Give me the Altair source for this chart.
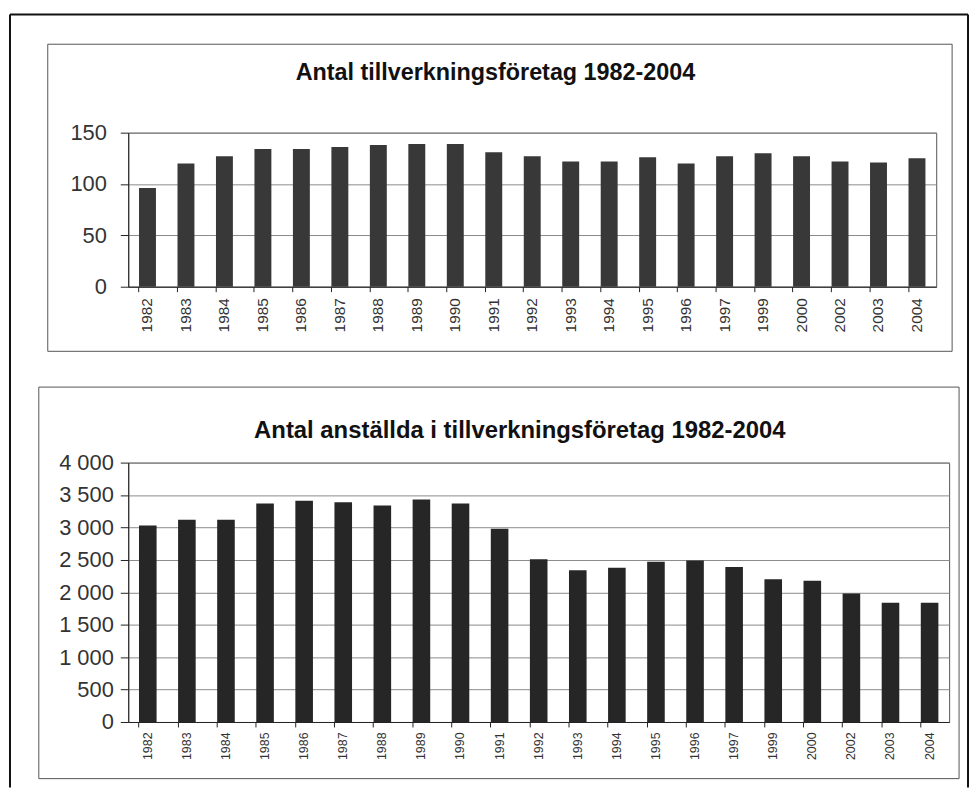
import altair as alt
import pandas as pd

# ---- data ----
years = ["1982", "1983", "1984", "1985", "1986", "1987", "1988", "1989", "1990",
         "1991", "1992", "1993", "1994", "1995", "1996", "1997", "1999", "2000",
         "2002", "2003", "2004"]
foretag = [96, 120, 127, 134, 134, 136, 138, 139, 139, 131, 127, 122, 122, 126,
           120, 127, 130, 127, 122, 121, 125]
anstallda = [3030, 3120, 3120, 3370, 3410, 3390, 3340, 3430, 3370, 2980, 2510,
             2340, 2380, 2470, 2490, 2390, 2200, 2180, 1980, 1840, 1840]
top_ticks = [0, 50, 100, 150]
bot_ticks = [0, 500, 1000, 1500, 2000, 2500, 3000, 3500, 4000]
title_top = "Antal tillverkningsföretag 1982-2004"
title_bot = "Antal anställda i tillverkningsföretag 1982-2004"

FONT = "Liberation Sans"

df_top = pd.DataFrame({"year": years, "value": foretag})
df_bot = pd.DataFrame({"year": years, "value": anstallda})
one = pd.DataFrame({"k": [0]})


def box(x1, x2, y1, y2, color="#555", sw=1.0):
    return alt.Chart(one).mark_rect(fill="transparent", stroke=color, strokeWidth=sw).encode(
        x=alt.value(x1), x2=alt.value(x2), y=alt.value(y1), y2=alt.value(y2))


def vrule(x, y1, y2, color="#111", sw=2):
    return alt.Chart(one).mark_rule(color=color, strokeWidth=sw).encode(
        x=alt.value(x), y=alt.value(y1), y2=alt.value(y2))


def hrule(x1, x2, y, color="#111", sw=2):
    return alt.Chart(one).mark_rule(color=color, strokeWidth=sw).encode(
        x=alt.value(x1), x2=alt.value(x2), y=alt.value(y))


def title_text(txt, x, y, size):
    return alt.Chart(one).mark_text(text=txt, font=FONT, fontSize=size, fontWeight="bold",
                                    align="center", baseline="alphabetic", color="#111").encode(
        x=alt.value(x), y=alt.value(y))


# ---- top panel (plot origin at page 128,130) ----
bars_top = alt.Chart(df_top).mark_bar(color="#383838").encode(
    x=alt.X("year:N", sort=years, title=None,
            scale=alt.Scale(paddingInner=0.56),
            axis=alt.Axis(labelAngle=270, bandPosition=0, tickSize=5, labelPadding=6,
                          labelFontSize=15.5, labelOverlap=False, grid=False)),
    y=alt.Y("value:Q", title=None,
            scale=alt.Scale(domain=[0, 150], nice=False),
            axis=alt.Axis(values=top_ticks, tickSize=8, labelPadding=14,
                          labelFontSize=22, grid=True)),
)

top = alt.layer(
    box(-81, 829, -89, 220),
    vrule(-119, -119, 659),
    hrule(-119, 845, -119),
    vrule(845, -119, 659),
    bars_top,
    title_text(title_top, 369.5, -53, 23.5),
).properties(width=813, height=155)

# ---- bottom panel (plot origin at page 128,462) ----
bars_bot = alt.Chart(df_bot).mark_bar(color="#262626").encode(
    x=alt.X("year:N", sort=years, title=None,
            scale=alt.Scale(paddingInner=0.55),
            axis=alt.Axis(labelAngle=270, bandPosition=0, tickSize=5, labelPadding=5,
                          labelFontSize=12.5, labelOverlap=False, grid=False)),
    y=alt.Y("value:Q", title=None,
            scale=alt.Scale(domain=[0, 4000], nice=False),
            axis=alt.Axis(values=bot_ticks, tickSize=8, labelPadding=7,
                          labelFontSize=22, grid=True,
                          labelExpr="replace(format(datum.value, ','), ',', ' ')")),
)

bottom = alt.layer(
    box(-90, 836, -76, 318),
    bars_bot,
    title_text(title_bot, 394, -25, 24),
).properties(width=826, height=261)

chart = alt.vconcat(top, bottom, spacing=177, bounds="flush").properties(
    padding={"left": 0, "top": 2, "right": 0, "bottom": 0}
).configure_view(
    stroke="#555", strokeWidth=1
).configure_axis(
    labelFont=FONT, labelColor="#333", domainColor="#222", tickColor="#222",
    gridColor="#8a8a8a", gridWidth=1, domainWidth=1
)

chart.save("out.html", embed_options={"renderer": "svg", "actions": False})
